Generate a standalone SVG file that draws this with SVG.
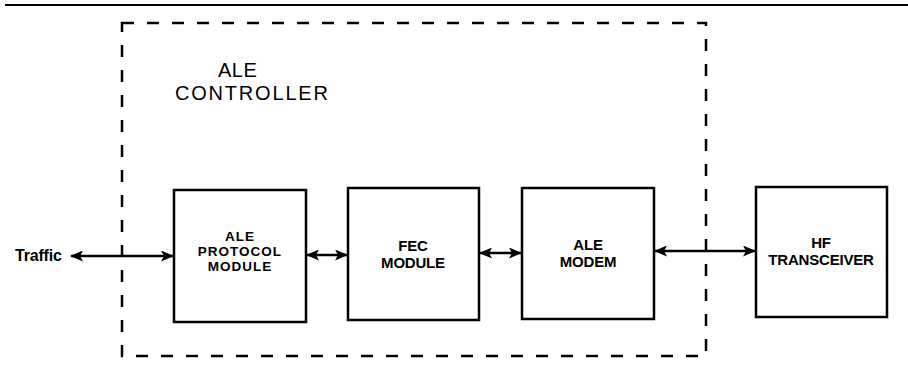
<svg xmlns="http://www.w3.org/2000/svg" width="908" height="371" viewBox="0 0 908 371">
<style>
.box{fill:#fff;stroke:#000;stroke-width:2.5}
.lbl{font-family:"Liberation Sans",Arial,sans-serif;font-size:15px;font-weight:bold;text-anchor:middle;fill:#000;letter-spacing:-0.2px}
.tight{font-size:13.5px;letter-spacing:1px}
.title{font-family:"Liberation Sans",Arial,sans-serif;font-size:20px;fill:#000}
.conn{stroke:#000;stroke-width:2.5;fill:none;marker-start:url(#ah);marker-end:url(#ah)}
</style>
<defs>
<marker id="ah" viewBox="0 0 13 11" refX="12" refY="5.5" markerWidth="13" markerHeight="11" markerUnits="userSpaceOnUse" orient="auto-start-reverse">
<path d="M0,0 L13,5.5 L0,11 L3,5.5 Z" fill="#000"/>
</marker>
</defs>
<rect width="908" height="371" fill="#fff"/>
<line x1="5" y1="5" x2="908" y2="5" stroke="#000" stroke-width="2"/>
<g id="ale-controller">
<rect x="122" y="23" width="584" height="333" fill="none" stroke="#000" stroke-width="2.5" stroke-dasharray="12 13"/>
<text class="title" x="218" y="77" letter-spacing="0.5">ALE</text>
<text class="title" x="175" y="99.5" letter-spacing="1.8">CONTROLLER</text>
</g>
<g id="ale-protocol">
<rect class="box" x="174" y="190" width="132" height="132"/>
<text class="lbl tight" x="240" y="241">ALE</text>
<text class="lbl tight" x="240" y="256.2">PROTOCOL</text>
<text class="lbl tight" x="240" y="271.4">MODULE</text>
</g>
<g id="fec">
<rect class="box" x="348" y="188" width="131" height="132"/>
<text class="lbl" x="413" y="251">FEC</text>
<text class="lbl" x="413" y="268">MODULE</text>
</g>
<g id="ale-modem">
<rect class="box" x="522" y="188" width="132" height="131"/>
<text class="lbl" x="588" y="250">ALE</text>
<text class="lbl" x="588" y="267">MODEM</text>
</g>
<g id="hf-transceiver">
<rect class="box" x="756" y="187" width="131" height="130"/>
<text class="lbl" x="821" y="248">HF</text>
<text class="lbl" x="821" y="265">TRANSCEIVER</text>
</g>
<g id="traffic">
<text class="lbl" x="15" y="261" style="text-anchor:start;font-size:16px">Traffic</text>
</g>
<g id="connectors">
<line class="conn" x1="71" y1="256" x2="173" y2="256"/>
<line class="conn" x1="307" y1="255" x2="347" y2="255"/>
<line class="conn" x1="480" y1="253" x2="521" y2="253"/>
<line class="conn" x1="655" y1="251" x2="755" y2="251"/>
</g>
</svg>
